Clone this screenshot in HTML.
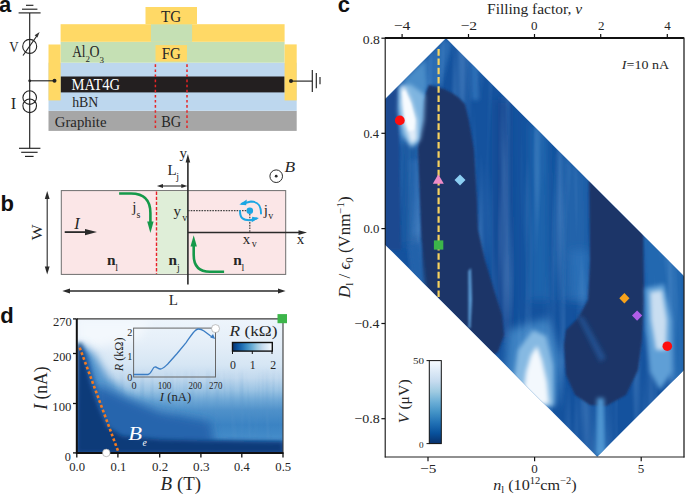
<!DOCTYPE html>
<html><head><meta charset="utf-8">
<style>
html,body{margin:0;padding:0;background:#fff;}
body{width:685px;height:495px;overflow:hidden;}
svg{display:block;}
text{font-family:"Liberation Serif",serif;fill:#222;}
.lbl{font-family:"Liberation Sans",sans-serif;font-weight:bold;fill:#111;}
</style></head><body>
<svg width="685" height="495" viewBox="0 0 685 495">
<!-- ============ PANEL A ============ -->
<g id="pa">
<rect x="48.5" y="110.8" width="248.2" height="20.1" fill="#a6a6a6"/>
<rect x="48.5" y="62.7" width="248.2" height="48.1" fill="#bdd7ee"/>
<rect x="60.6" y="41.8" width="224" height="20.9" fill="#c5e0b4"/>
<rect x="60.6" y="24.2" width="224" height="17.6" fill="#ffd966"/>
<rect x="150.9" y="24.2" width="41.2" height="17.6" fill="#c5e0b4"/>
<rect x="145.5" y="7" width="51.5" height="17.2" fill="#ffd966"/>
<rect x="155.5" y="45.1" width="31.5" height="16.5" fill="#ffd966"/>
<rect x="60.6" y="76.5" width="224" height="15.9" fill="#231f20"/>
<rect x="48.5" y="44.5" width="12.1" height="55.9" fill="#ffd966"/>
<rect x="284.6" y="44.4" width="12.1" height="56" fill="#ffd966"/>
<line x1="155.4" y1="62.7" x2="155.4" y2="129" stroke="#e42526" stroke-width="1.5" stroke-dasharray="2.6,2.5" stroke-dashoffset="-1.6"/>
<line x1="187" y1="62.7" x2="187" y2="129" stroke="#e42526" stroke-width="1.5" stroke-dasharray="2.6,2.5" stroke-dashoffset="-1.6"/>







<!-- circuit -->
<g stroke="#222" stroke-width="1.15" fill="none">
<line x1="29.7" y1="12.9" x2="29.7" y2="148.3"/>
<line x1="26" y1="5.3" x2="33.4" y2="5.3"/>
<line x1="22" y1="9.2" x2="37.4" y2="9.2"/>
<line x1="18.6" y1="12.9" x2="40.6" y2="12.9"/>
<line x1="19" y1="148.3" x2="40.4" y2="148.3"/>
<line x1="21.2" y1="152.3" x2="37.6" y2="152.3"/>
<line x1="25" y1="156.4" x2="33.6" y2="156.4"/>
<circle cx="29.7" cy="46.4" r="7" stroke-width="1.1"/>
<line x1="23" y1="55.5" x2="37.5" y2="35"/>
<circle cx="29.7" cy="97.6" r="6.8" stroke-width="1.1"/>
<circle cx="29.7" cy="105.8" r="6.8" stroke-width="1.1"/>
<line x1="29.7" y1="80.8" x2="54.5" y2="80.8"/>
<line x1="291" y1="81.1" x2="312.3" y2="81.1"/>
<line x1="312.3" y1="70" x2="312.3" y2="92"/>
<line x1="316.3" y1="73" x2="316.3" y2="88.2"/>
<line x1="320" y1="77" x2="320" y2="84.3"/>
</g>
<path d="M39.6,32 L34.6,35.2 L37.4,37.6 Z" fill="#333"/>
<circle cx="29.7" cy="80.8" r="1.4" fill="#222"/>
<circle cx="54.5" cy="80.8" r="2" fill="#222"/>
<circle cx="291" cy="81.1" r="2" fill="#222"/>



</g>

<!-- ============ PANEL B ============ -->
<g id="pb">

<rect x="61.3" y="190.6" width="224.4" height="83.8" fill="#fbe6e7" stroke="#6e6e6e" stroke-width="1"/>
<rect x="156.9" y="191.1" width="31" height="82.8" fill="#dfeed8"/>
<line x1="156.5" y1="191.6" x2="156.5" y2="274" stroke="#e8202a" stroke-width="1.4" stroke-dasharray="3.3,1.8"/>
<g stroke="#2a2a2a" fill="none">
<line x1="187.9" y1="160" x2="187.9" y2="284.6" stroke-width="1.6"/>
<line x1="187.9" y1="232.6" x2="300" y2="232.6" stroke-width="1.5"/>
<line x1="47.2" y1="197" x2="47.2" y2="268.5" stroke-width="1.1"/>
<line x1="68" y1="291" x2="279.5" y2="291" stroke-width="1.3"/>
<line x1="162" y1="186" x2="182.3" y2="186" stroke-width="1.1"/>
<line x1="64.7" y1="232.1" x2="86" y2="232.1" stroke-width="1.8"/>
</g>
<g fill="#2a2a2a">
<path d="M187.9,154 L185.6,162.5 L190.2,162.5 Z"/>
<path d="M307,232.6 L298.5,230.3 L298.5,234.9 Z"/>
<path d="M47.2,191 L44.8,199 L49.6,199 Z"/>
<path d="M47.2,274.5 L44.8,266.5 L49.6,266.5 Z"/>
<path d="M62.3,291 L70,288.6 L70,293.4 Z"/>
<path d="M285.6,291 L278,288.6 L278,293.4 Z"/>
<path d="M156.9,186 L163,184 L163,188 Z"/>
<path d="M187.4,186 L181.3,184 L181.3,188 Z"/>
<path d="M97,232.1 L85,228.9 L85,235.3 Z"/>
</g>
<!-- dotted guides -->
<line x1="188" y1="210.7" x2="247" y2="210.7" stroke="#444" stroke-width="1.2" stroke-dasharray="1.6,1.1"/>
<line x1="249.8" y1="214" x2="249.8" y2="232.5" stroke="#444" stroke-width="1.2" stroke-dasharray="1.6,1.1"/>
<!-- green arrows -->
<g stroke="#15994a" stroke-width="2.6" fill="none">
<path d="M119.1,193.5 L131,193.5 Q150.4,193.5 150.4,213 L150.4,223"/>
<path d="M224.1,271.7 L210,271.7 Q193.7,271.7 193.7,255 L193.7,245"/>
</g>
<g fill="#15994a">
<path d="M150.4,233 L147.2,221.5 L153.6,221.5 Z"/>
<path d="M193.7,235.3 L190.5,246.5 L196.9,246.5 Z"/>
</g>
<!-- vortex -->
<circle cx="249.8" cy="210.7" r="3.3" fill="#1ba6e3"/>
<g stroke="#1ba6e3" stroke-width="2" fill="none" stroke-linecap="round">
<path d="M261,213.5 C261,205 258,201.6 251,201.6 L242,203.8"/>
<path d="M240,211 C240,218 243,220.4 250,220.3 L256.5,218.6"/>
</g>
<g fill="#1ba6e3">
<path d="M239.3,204.6 L246.8,199.6 L246.2,205.2 Z"/>
<path d="M259,217.9 L251.6,222.2 L252.2,216.8 Z"/>
</g>
<!-- B symbol -->
<circle cx="276.2" cy="176.2" r="6.3" fill="none" stroke="#2a2a2a" stroke-width="1"/>
<circle cx="276.2" cy="176.2" r="1.4" fill="#2a2a2a"/>
<!-- labels -->














</g>

<!-- ============ PANEL D ============ -->
<g id="pd">

<defs>
<linearGradient id="dg1" x1="0" y1="319" x2="0" y2="453" gradientUnits="userSpaceOnUse">
<stop offset="0" stop-color="#eef5fc"/>
<stop offset="0.19" stop-color="#e4eef8"/>
<stop offset="0.34" stop-color="#d6e6f4"/>
<stop offset="0.44" stop-color="#c2d9ee"/>
<stop offset="0.53" stop-color="#9cc4e4"/>
<stop offset="0.6" stop-color="#72aad7"/>
<stop offset="0.68" stop-color="#4f91ca"/>
<stop offset="0.79" stop-color="#3b83c3"/>
<stop offset="0.86" stop-color="#4189c7"/>
<stop offset="0.9" stop-color="#4a90cc"/>
<stop offset="0.93" stop-color="#2a68ab"/>
<stop offset="0.95" stop-color="#144a8a"/>
<stop offset="1" stop-color="#0e3d78"/>
</linearGradient>
<clipPath id="dclip"><rect x="77" y="319" width="206" height="134"/></clipPath>
<linearGradient id="dmg" x1="0" y1="340" x2="0" y2="453" gradientUnits="userSpaceOnUse"><stop offset="0" stop-color="#000"/><stop offset="0.25" stop-color="#000"/><stop offset="0.45" stop-color="#fff"/><stop offset="0.85" stop-color="#fff"/><stop offset="1" stop-color="#000"/></linearGradient>
<mask id="dmask" maskUnits="userSpaceOnUse" x="77" y="319" width="206" height="134"><rect x="77" y="340" width="206" height="113" fill="url(#dmg)"/></mask>
<filter id="streak2" x="0" y="0" width="100%" height="100%"><feTurbulence type="fractalNoise" baseFrequency="0.2 0.01" numOctaves="2" seed="3"/><feColorMatrix type="matrix" values="0 0 0 0 0.1  0 0 0 0 0.3  0 0 0 0 0.6  0 0 0 1.8 -0.8"/></filter>
<filter id="blur1" x="-20%" y="-20%" width="140%" height="140%"><feGaussianBlur stdDeviation="2"/></filter>
<filter id="blur3" x="-20%" y="-20%" width="140%" height="140%"><feGaussianBlur stdDeviation="4"/></filter>
</defs>
<g clip-path="url(#dclip)">
<rect x="77" y="319" width="206" height="134" fill="url(#dg1)"/>
<path d="M77,319 L150,319 L140,338 L100,346 L77,346 Z" fill="#f3f8fd" filter="url(#blur3)"/>
<path d="M80,343 L95,355 L108,378 L130,398 L170,408 L175,453 L77,453 Z" fill="#5595cd" filter="url(#blur3)"/>
<g mask="url(#dmask)"><rect x="77" y="340" width="206" height="113" filter="url(#streak2)" opacity="0.35"/></g>
<path d="M81,343 L88,355 L96,383 L108,408 L122,428 L145,439 L283,441 L283,453 L77,453 Z" fill="#2566ad" filter="url(#blur1)"/>
<path d="M97,385 L125,398 L160,412 L210,422 L215,446 L97,446 Z" fill="#2865ad" filter="url(#blur3)"/>
<path d="M77.5,343 L81,343 L84.5,359 L90.6,383.5 L99,408 L107.6,427 L122,436 L160,439.5 L220,441 L283,442 L283,453 L77,453 Z" fill="#0c3a79" filter="url(#blur1)"/>
</g>
<!-- spines -->
<line x1="77" y1="318.9" x2="283" y2="318.9" stroke="#3a3a3a" stroke-width="1.1"/>
<line x1="283" y1="318.9" x2="283" y2="453" stroke="#3a3a3a" stroke-width="1.1"/>
<line x1="76.8" y1="318.4" x2="76.8" y2="454" stroke="#111" stroke-width="2"/>
<line x1="76" y1="452.9" x2="283.5" y2="452.9" stroke="#111" stroke-width="2"/>
<g stroke="#111" stroke-width="1.3">
<line x1="73" y1="318.9" x2="76" y2="318.9"/>
<line x1="73" y1="353.5" x2="76" y2="353.5"/>
<line x1="73" y1="403.5" x2="76" y2="403.5"/>
<line x1="73" y1="452.9" x2="76" y2="452.9"/>
<line x1="76.8" y1="453" x2="76.8" y2="457.5"/>
<line x1="117.9" y1="453" x2="117.9" y2="457.5"/>
<line x1="159.7" y1="453" x2="159.7" y2="457.5"/>
<line x1="200.9" y1="453" x2="200.9" y2="457.5"/>
<line x1="241.8" y1="453" x2="241.8" y2="457.5"/>
<line x1="283" y1="453" x2="283" y2="457.5"/>
</g>




<!-- orange dotted line -->
<line x1="79.7" y1="347.6" x2="118.4" y2="452" stroke="#f47a20" stroke-width="2.6" stroke-dasharray="2.8,2.3"/>
<circle cx="106.3" cy="452.9" r="3.8" fill="#fff" stroke="#999" stroke-width="0.6"/>
<rect x="277.5" y="314.1" width="9.5" height="9.1" fill="#3cb54a"/>

<!-- inset -->
<rect x="133.6" y="328.1" width="81.9" height="48.9" fill="none" stroke="#666" stroke-width="1"/>
<path d="M134,374.5 L148,374.5 C150,374.5 151,372 152.5,369.5 C153.5,367.5 154.5,366.8 155.5,367 C157,367.3 158.5,369 160.5,369 C163,369 165,366.5 168,363.8 L177.1,353.5 L186.3,342.3 C189,338.5 191,335.5 193,333 C195,330.5 196.5,329 198.5,329 C200.5,329 202,329.6 204,331 L210,335.5 L212.5,337.2" fill="none" stroke="#3b7dc4" stroke-width="1.3"/>
<path d="M215.2,339 L210.2,337.6 L213,334 Z" fill="#3b7dc4"/>
<circle cx="215.5" cy="328.6" r="4" fill="#fff" stroke="#999" stroke-width="0.6"/>




<!-- colorbar R -->
<defs><linearGradient id="rcb" x1="0" y1="0" x2="1" y2="0">
<stop offset="0" stop-color="#08306b"/><stop offset="0.125" stop-color="#08519c"/><stop offset="0.25" stop-color="#2171b5"/><stop offset="0.375" stop-color="#4292c6"/><stop offset="0.5" stop-color="#6baed6"/><stop offset="0.625" stop-color="#9ecae1"/><stop offset="0.75" stop-color="#c6dbef"/><stop offset="0.875" stop-color="#deebf7"/><stop offset="1" stop-color="#f7fbff"/>
</linearGradient></defs>
<rect x="232.5" y="342.5" width="39.8" height="8.6" fill="url(#rcb)" stroke="#111" stroke-width="1.4"/>
<g stroke="#111" stroke-width="1"><line x1="232.5" y1="351" x2="232.5" y2="354"/><line x1="252.3" y1="351" x2="252.3" y2="354"/><line x1="272" y1="351" x2="272" y2="354"/></g>


</g>

<!-- ============ PANEL C ============ -->
<g id="pc">

<defs>
<clipPath id="cclip"><polygon points="385,99.2 446,38.2 684,276.2 684,369.9 597.2,456.7 385,244.5"/></clipPath>
<filter id="b2" x="-50%" y="-50%" width="200%" height="200%"><feGaussianBlur stdDeviation="2"/></filter>
<filter id="b1" x="-50%" y="-50%" width="200%" height="200%"><feGaussianBlur stdDeviation="1"/></filter>
<filter id="streak" x="0" y="0" width="100%" height="100%"><feTurbulence type="fractalNoise" baseFrequency="0.09 0.006" numOctaves="2" seed="7"/><feColorMatrix type="matrix" values="0 0 0 0 0.3  0 0 0 0 0.55  0 0 0 0 0.88  0 0 0 1.8 -0.8"/></filter>
<filter id="b4" x="-50%" y="-50%" width="200%" height="200%"><feGaussianBlur stdDeviation="4"/></filter>
<linearGradient id="vcb" x1="0" y1="1" x2="0" y2="0">
<stop offset="0" stop-color="#08306b"/><stop offset="0.125" stop-color="#08519c"/><stop offset="0.25" stop-color="#2171b5"/><stop offset="0.375" stop-color="#4292c6"/><stop offset="0.5" stop-color="#6baed6"/><stop offset="0.625" stop-color="#9ecae1"/><stop offset="0.75" stop-color="#c6dbef"/><stop offset="0.875" stop-color="#deebf7"/><stop offset="1" stop-color="#f7fbff"/>
</linearGradient>
</defs>
<g clip-path="url(#cclip)">
<rect x="385" y="38" width="300" height="420" fill="#14529e"/>
<!-- medium variations -->
<path d="M385,99 L446,38 L452,44 L441,85 L427,87 L422,120 L418,145 L400,145 L385,125 Z" fill="#2a6cb3" filter="url(#b2)"/>
<path d="M404,80 L425,60 L427,86 L423,100 L406,95 Z" fill="#4a8cc8" filter="url(#b2)"/>
<path d="M400,140 L419,140 L421,200 L423,245 L402,245 Z" fill="#1f5ba3" filter="url(#b4)"/>
<path d="M410,160 L419,160 L421,235 L412,235 Z" fill="#2866ae" filter="url(#b2)"/>
<path d="M530,120 L548,135 L550,300 L530,300 Z" fill="#1f63ac" filter="url(#b4)"/>
<path d="M560,150 L588,175 L590,300 L562,300 Z" fill="#2063ab" filter="url(#b4)"/>
<path d="M495,100 L510,100 L512,340 L495,340 Z" fill="#134a93" filter="url(#b4)"/>
<path d="M570,250 L588,250 L589,300 L572,300 Z" fill="#2c6fb7" filter="url(#b4)"/>
<path d="M470,55 L478,62 L479,100 L472,100 Z" fill="#2e70b7" filter="url(#b2)"/>
<path d="M644,230 L684,270 L684,380 L670,380 L646,330 Z" fill="#2467b0" filter="url(#b2)"/>
<path d="M508,330 L548,318 L562,360 L556,405 L520,405 L505,370 Z" fill="#3d82c3" filter="url(#b4)"/>
<rect x="385" y="38" width="300" height="420" filter="url(#streak)" opacity="0.32"/>
<!-- dark regions -->
<path d="M385,99 L398,86 L401,250 L385,250 Z" fill="#1c4a90" filter="url(#b1)"/>
<path d="M429,85 L436,87 L444,89 L452,93 L458,97 L465,104 L469,121 L474,150 L477,200 L478,230 L485,260 L494,290 L502,315 L504,335 L498,352 L470,370 L430,330 L421,300 L422,250 L420,200 L418,150 L421,121 L423,101 Z" fill="#1e3468" filter="url(#b1)"/>
<path d="M589,170 L643,225 L644,300 L642,340 L638,370 L626,395 L606,406 L590,405 L575,395 L566,375 L564,345 L566,330 L578,318 L588,300 L590,260 Z" fill="#1e3468" filter="url(#b1)"/>
<path d="M576,314 L584,318 L606,358 L600,362 Z" fill="#22508f" filter="url(#b2)"/>
<!-- light streaks -->
<path d="M408,246 L420,242 L426,292 L414,284 Z" fill="#2262aa" filter="url(#b2)"/>
<path d="M468.3,271 L471,268 L472,300 L470.5,328 L468.5,328 Z" fill="#5a9ad3" filter="url(#b1)"/>
<path d="M399,88 L410,84 L425,95 L424,120 L420,140 L412,148 L402,135 L398,110 Z" fill="#7fb5e0" filter="url(#b2)"/>
<path d="M401,87 L404,85 L411,100 L417,120 L417,140 L411,144 L404,124 L401,104 Z" fill="#e2eef9" filter="url(#b2)"/>
<path d="M402.5,92 L405,90 L411,104 L415,120 L414,130 L409,131 L405,120 Z" fill="#f7fbff" filter="url(#b1)"/>
<path d="M645,288 L664,284 L672,320 L672,372 L660,390 L650,372 L646,330 Z" fill="#5e9fd6" filter="url(#b2)"/>
<path d="M650,292 L662,290 L667,320 L666,350 L656,350 L651,320 Z" fill="#c9def1" filter="url(#b2)"/>
<path d="M518,350 L533,330 L546,336 L553,365 L554,406 L522,406 L514,378 Z" fill="#86b9e2" filter="url(#b2)"/>
<path d="M526,372 L531,355 L537,346 L542,360 L547,382 L549,404 L529,404 L524,388 Z" fill="#f3f8fd" filter="url(#b2)"/>
<path d="M597,398 L604,398 L606,456 L595,456 Z" fill="#5096d2" filter="url(#b2)"/>
</g>
<!-- yellow dashed -->
<line x1="438.6" y1="49.1" x2="438.6" y2="298" stroke="#f6d25f" stroke-width="2.2" stroke-dasharray="6.6,2.68"/>
<!-- markers -->
<circle cx="399.8" cy="120.4" r="4.9" fill="#fe0d0d"/>
<circle cx="667.3" cy="346.2" r="4.8" fill="#fe0d0d"/>
<path d="M438.3,174.3 L432.8,183.8 L443.8,183.8 Z" fill="#ee8cc8"/>
<path d="M460,174.4 L465.5,179.9 L460,185.4 L454.5,179.9 Z" fill="#8ccff2"/>
<rect x="433.9" y="240.4" width="9.4" height="9.2" fill="#3cb54a"/>
<path d="M624.4,293 L629.5,298.2 L624.4,303.4 L619.3,298.2 Z" fill="#f7a21b"/>
<path d="M637.1,310.5 L642.2,315.6 L637.1,320.7 L632,315.6 Z" fill="#b05ee8"/>
<!-- colorbar V -->
<rect x="429.3" y="360.6" width="12" height="83" fill="url(#vcb)" stroke="#111" stroke-width="1"/>
<g stroke="#111" stroke-width="1"><line x1="426.5" y1="360.6" x2="429.3" y2="360.6"/><line x1="426.5" y1="443.6" x2="429.3" y2="443.6"/></g>


<!-- spines -->
<line x1="385" y1="38" x2="684" y2="38" stroke="#111" stroke-width="1.8"/>
<line x1="385.2" y1="37.5" x2="385.2" y2="457.5" stroke="#111" stroke-width="1.1"/>
<line x1="684" y1="37.5" x2="684" y2="457.5" stroke="#222" stroke-width="1.3"/>
<line x1="384.8" y1="457" x2="684.5" y2="457" stroke="#222" stroke-width="1.2"/>
<g stroke="#111" stroke-width="1.2">
<line x1="402.1" y1="38" x2="402.1" y2="34"/>
<line x1="468.5" y1="38" x2="468.5" y2="34"/>
<line x1="534.5" y1="38" x2="534.5" y2="34"/>
<line x1="600.7" y1="38" x2="600.7" y2="34"/>
<line x1="667.3" y1="38" x2="667.3" y2="34"/>
<line x1="381.4" y1="38.2" x2="385" y2="38.2"/>
<line x1="381.4" y1="133.3" x2="385" y2="133.3"/>
<line x1="381.4" y1="228.6" x2="385" y2="228.6"/>
<line x1="381.4" y1="323.5" x2="385" y2="323.5"/>
<line x1="381.4" y1="418.7" x2="385" y2="418.7"/>
<line x1="428" y1="457" x2="428" y2="461.2"/>
<line x1="534.6" y1="457" x2="534.6" y2="461.2"/>
<line x1="641.2" y1="457" x2="641.2" y2="461.2"/>
</g>






</g>
<text transform="translate(-1.04,12.08)" font-size="22.0" font-weight="bold" style="font-family:&quot;Liberation Sans&quot;,sans-serif;fill:#111">a</text>
<text transform="translate(0.42,210.75)" font-size="22.0" font-weight="bold" style="font-family:&quot;Liberation Sans&quot;,sans-serif;fill:#111">b</text>
<text transform="translate(337.74,12.48)" font-size="22.0" font-weight="bold" style="font-family:&quot;Liberation Sans&quot;,sans-serif;fill:#111">c</text>
<text transform="translate(0.21,322.95)" font-size="22.0" font-weight="bold" style="font-family:&quot;Liberation Sans&quot;,sans-serif;fill:#111">d</text>
<text transform="translate(160.9,21.66) scale(0.93,1)" font-size="16.3" style="font-family:&quot;Liberation Serif&quot;,serif;fill:#262626">TG</text>
<text transform="translate(161.75,59.26) scale(0.919,1)" font-size="16.3" style="font-family:&quot;Liberation Serif&quot;,serif;fill:#262626">FG</text>
<text transform="translate(161.17,126.66) scale(0.886,1)" font-size="16.3" style="font-family:&quot;Liberation Serif&quot;,serif;fill:#262626">BG</text>
<text transform="translate(72.17,57.45) scale(0.816,1)" font-size="16.3" style="font-family:&quot;Liberation Serif&quot;,serif;fill:#262626">Al</text>
<text transform="translate(85.5,62.34)" font-size="9.0" style="font-family:&quot;Liberation Serif&quot;,serif;fill:#262626">2</text>
<text transform="translate(89.54,57.06) scale(0.853,1)" font-size="16.3" style="font-family:&quot;Liberation Serif&quot;,serif;fill:#262626">O</text>
<text transform="translate(99.61,62.94)" font-size="9.0" style="font-family:&quot;Liberation Serif&quot;,serif;fill:#262626">3</text>
<text transform="translate(71.46,89.66) scale(0.897,1)" font-size="16.3" style="font-family:&quot;Liberation Serif&quot;,serif;fill:#fff">MAT4G</text>
<text transform="translate(72.16,107.03) scale(0.906,1)" font-size="15.3" style="font-family:&quot;Liberation Serif&quot;,serif;fill:#262626">hBN</text>
<text transform="translate(54.71,126.73) scale(0.968,1)" font-size="15.3" style="font-family:&quot;Liberation Serif&quot;,serif;fill:#262626">Graphite</text>
<text transform="translate(9.27,51.67) scale(0.848,1)" font-size="15.34" style="font-family:&quot;Liberation Serif&quot;,serif;fill:#262626">V</text>
<text transform="translate(10.69,108.7)" font-size="16.46" style="font-family:&quot;Liberation Serif&quot;,serif;fill:#262626">I</text>
<text transform="translate(42.15,240.2) rotate(-90) scale(1.121,1)" font-size="15.0" style="font-family:&quot;Liberation Serif&quot;,serif;fill:#262626">W</text>
<text transform="translate(74.3,228.9)" font-size="16.15" font-style="italic" style="font-family:&quot;Liberation Serif&quot;,serif;fill:#262626">I</text>
<text transform="translate(179.46,157.6)" font-size="15.0" style="font-family:&quot;Liberation Serif&quot;,serif;fill:#262626">y</text>
<text transform="translate(167.6,174.95)" font-size="15.0" style="font-family:&quot;Liberation Serif&quot;,serif;fill:#262626">L</text>
<text transform="translate(176.2,180.3)" font-size="10.0" style="font-family:&quot;Liberation Serif&quot;,serif;fill:#262626">j</text>
<text transform="translate(132.3,212.2)" font-size="15.0" style="font-family:&quot;Liberation Serif&quot;,serif;fill:#262626">j</text>
<text transform="translate(136.58,218.4)" font-size="10.0" style="font-family:&quot;Liberation Serif&quot;,serif;fill:#262626">s</text>
<text transform="translate(173.61,215.8)" font-size="15.0" style="font-family:&quot;Liberation Serif&quot;,serif;fill:#262626">y</text>
<text transform="translate(182.2,221.05)" font-size="10.0" style="font-family:&quot;Liberation Serif&quot;,serif;fill:#262626">v</text>
<text transform="translate(263.65,215.4)" font-size="15.0" style="font-family:&quot;Liberation Serif&quot;,serif;fill:#262626">j</text>
<text transform="translate(268.2,219.15)" font-size="10.0" style="font-family:&quot;Liberation Serif&quot;,serif;fill:#262626">v</text>
<text transform="translate(242.7,243.62)" font-size="15.0" style="font-family:&quot;Liberation Serif&quot;,serif;fill:#262626">x</text>
<text transform="translate(251.85,247.45)" font-size="10.0" style="font-family:&quot;Liberation Serif&quot;,serif;fill:#262626">v</text>
<text transform="translate(296.85,243.62)" font-size="15.0" style="font-family:&quot;Liberation Serif&quot;,serif;fill:#262626">x</text>
<text transform="translate(168.7,304.85)" font-size="15.0" style="font-family:&quot;Liberation Serif&quot;,serif;fill:#262626">L</text>
<text transform="translate(106.93,265.29)" font-size="15.3" font-weight="bold" style="font-family:&quot;Liberation Serif&quot;,serif;fill:#262626">n</text>
<text transform="translate(115.25,270.8)" font-size="10.0" style="font-family:&quot;Liberation Serif&quot;,serif;fill:#262626">l</text>
<text transform="translate(168.43,265.29)" font-size="15.3" font-weight="bold" style="font-family:&quot;Liberation Serif&quot;,serif;fill:#262626">n</text>
<text transform="translate(176.9,270.7)" font-size="10.0" style="font-family:&quot;Liberation Serif&quot;,serif;fill:#262626">j</text>
<text transform="translate(233.33,265.29)" font-size="15.3" font-weight="bold" style="font-family:&quot;Liberation Serif&quot;,serif;fill:#262626">n</text>
<text transform="translate(241.5,270.5)" font-size="10.0" style="font-family:&quot;Liberation Serif&quot;,serif;fill:#262626">l</text>
<text transform="translate(284.43,171.82) scale(1.161,1)" font-size="15.0" font-style="italic" style="font-family:&quot;Liberation Serif&quot;,serif;fill:#262626">B</text>
<text transform="translate(53.03,325.71) scale(1.031,1)" font-size="12.2" style="font-family:&quot;Liberation Serif&quot;,serif;fill:#262626">270</text>
<text transform="translate(53.05,361.11) scale(1.002,1)" font-size="12.2" style="font-family:&quot;Liberation Serif&quot;,serif;fill:#262626">200</text>
<text transform="translate(52.36,410.81) scale(1.041,1)" font-size="12.2" style="font-family:&quot;Liberation Serif&quot;,serif;fill:#262626">100</text>
<text transform="translate(64.85,460.61)" font-size="12.2" style="font-family:&quot;Liberation Serif&quot;,serif;fill:#262626">0</text>
<text transform="translate(69.29,471.41)" font-size="12.65" style="font-family:&quot;Liberation Serif&quot;,serif;fill:#262626">0.0</text>
<text transform="translate(110.6,471.41) scale(0.997,1)" font-size="12.65" style="font-family:&quot;Liberation Serif&quot;,serif;fill:#262626">0.1</text>
<text transform="translate(151.98,471.41) scale(1.02,1)" font-size="12.65" style="font-family:&quot;Liberation Serif&quot;,serif;fill:#262626">0.2</text>
<text transform="translate(193.07,471.41) scale(1.041,1)" font-size="12.65" style="font-family:&quot;Liberation Serif&quot;,serif;fill:#262626">0.3</text>
<text transform="translate(234.1,471.41) scale(0.986,1)" font-size="12.65" style="font-family:&quot;Liberation Serif&quot;,serif;fill:#262626">0.4</text>
<text transform="translate(275.29,471.41) scale(1.007,1)" font-size="12.65" style="font-family:&quot;Liberation Serif&quot;,serif;fill:#262626">0.5</text>
<text transform="translate(160.61,490.04) scale(1.033,1)" font-size="18.3" style="font-family:&quot;Liberation Serif&quot;,serif;fill:#262626"><tspan font-style="italic">B</tspan> (T)</text>
<text transform="translate(46.54,409.81) rotate(-90) scale(0.958,1)" font-size="18.3" style="font-family:&quot;Liberation Serif&quot;,serif;fill:#262626"><tspan font-style="italic">I</tspan> (nA)</text>
<text transform="translate(128.29,440.4) scale(1.2,1)" font-size="18.78" font-style="italic" style="font-family:&quot;Liberation Serif&quot;,serif;fill:#fff">B</text>
<text transform="translate(142.54,446.1)" font-size="9.58" font-style="italic" style="font-family:&quot;Liberation Serif&quot;,serif;fill:#fff">e</text>
<text transform="translate(127.35,336.03)" font-size="10.2" style="font-family:&quot;Liberation Serif&quot;,serif;fill:#262626">2</text>
<text transform="translate(127.35,359.58)" font-size="10.2" style="font-family:&quot;Liberation Serif&quot;,serif;fill:#262626">1</text>
<text transform="translate(127.3,381.48)" font-size="10.2" style="font-family:&quot;Liberation Serif&quot;,serif;fill:#262626">0</text>
<text transform="translate(131.5,389.28)" font-size="10.2" style="font-family:&quot;Liberation Serif&quot;,serif;fill:#262626">0</text>
<text transform="translate(157.68,389.28) scale(0.895,1)" font-size="10.2" style="font-family:&quot;Liberation Serif&quot;,serif;fill:#262626">100</text>
<text transform="translate(188.6,389.28) scale(0.866,1)" font-size="10.2" style="font-family:&quot;Liberation Serif&quot;,serif;fill:#262626">200</text>
<text transform="translate(209.1,389.28) scale(0.866,1)" font-size="10.2" style="font-family:&quot;Liberation Serif&quot;,serif;fill:#262626">270</text>
<text transform="translate(159.76,400.5) scale(1.018,1)" font-size="12.5" style="font-family:&quot;Liberation Serif&quot;,serif;fill:#262626"><tspan font-style="italic">I</tspan> (nA)</text>
<text transform="translate(122.98,371.24) rotate(-90) scale(0.997,1)" font-size="12.2" style="font-family:&quot;Liberation Serif&quot;,serif;fill:#262626"><tspan font-style="italic">R</tspan> (kΩ)</text>
<text transform="translate(229.49,336.42) scale(1.132,1)" font-size="15.3" style="font-family:&quot;Liberation Serif&quot;,serif;fill:#262626"><tspan font-style="italic">R</tspan> (kΩ)</text>
<text transform="translate(230.1,368.95)" font-size="11.8" style="font-family:&quot;Liberation Serif&quot;,serif;fill:#262626">0</text>
<text transform="translate(249.77,368.83)" font-size="11.8" style="font-family:&quot;Liberation Serif&quot;,serif;fill:#262626">1</text>
<text transform="translate(270.16,368.89)" font-size="11.8" style="font-family:&quot;Liberation Serif&quot;,serif;fill:#262626">2</text>
<text transform="translate(362.85,43.64) scale(1.052,1)" font-size="13.0" style="font-family:&quot;Liberation Serif&quot;,serif;fill:#262626">0.8</text>
<text transform="translate(363.4,137.75) scale(0.959,1)" font-size="13.0" style="font-family:&quot;Liberation Serif&quot;,serif;fill:#262626">0.4</text>
<text transform="translate(363.39,232.95) scale(0.98,1)" font-size="13.0" style="font-family:&quot;Liberation Serif&quot;,serif;fill:#262626">0.0</text>
<text transform="translate(354.31,327.75) scale(1.064,1)" font-size="13.0" style="font-family:&quot;Liberation Serif&quot;,serif;fill:#262626">−0.4</text>
<text transform="translate(354.3,422.94) scale(1.079,1)" font-size="13.0" style="font-family:&quot;Liberation Serif&quot;,serif;fill:#262626">−0.8</text>
<text transform="translate(393.72,30.12) scale(1.2,1)" font-size="13.0" style="font-family:&quot;Liberation Serif&quot;,serif;fill:#262626">−4</text>
<text transform="translate(460.48,30.18) scale(1.2,1)" font-size="13.0" style="font-family:&quot;Liberation Serif&quot;,serif;fill:#262626">−2</text>
<text transform="translate(531.1,30.25)" font-size="13.0" style="font-family:&quot;Liberation Serif&quot;,serif;fill:#262626">0</text>
<text transform="translate(597.91,30.18)" font-size="13.0" style="font-family:&quot;Liberation Serif&quot;,serif;fill:#262626">2</text>
<text transform="translate(664.17,30.12)" font-size="13.0" style="font-family:&quot;Liberation Serif&quot;,serif;fill:#262626">4</text>
<text transform="translate(420.04,473.01) scale(1.176,1)" font-size="13.0" style="font-family:&quot;Liberation Serif&quot;,serif;fill:#262626">−5</text>
<text transform="translate(531.25,473.14)" font-size="13.0" style="font-family:&quot;Liberation Serif&quot;,serif;fill:#262626">0</text>
<text transform="translate(637.82,473.01)" font-size="13.0" style="font-family:&quot;Liberation Serif&quot;,serif;fill:#262626">5</text>
<text transform="translate(487.04,14.27) scale(1.005,1)" font-size="15.38" style="font-family:&quot;Liberation Serif&quot;,serif;fill:#262626">Filling factor, <tspan font-style="italic">ν</tspan></text>
<text transform="translate(621.87,68.87) scale(1.052,1)" font-size="13.33" style="font-family:&quot;Liberation Serif&quot;,serif;fill:#262626"><tspan font-style="italic">I</tspan>=10 nA</text>
<text transform="translate(413.07,364.12) scale(1.2,1)" font-size="9.2" style="font-family:&quot;Liberation Serif&quot;,serif;fill:#262626">50</text>
<text transform="translate(419.1,447.82)" font-size="9.2" style="font-family:&quot;Liberation Serif&quot;,serif;fill:#262626">0</text>
<text transform="translate(409.2,423.17) rotate(-90) scale(1.05,1)" font-size="15.0" style="font-family:&quot;Liberation Serif&quot;,serif;fill:#262626"><tspan font-style="italic">V</tspan> (μV)</text>
<text transform="translate(493.13,490.1) scale(1.117,1)" font-size="14.5" style="font-family:&quot;Liberation Serif&quot;,serif;fill:#262626"><tspan font-style="italic">n</tspan><tspan font-size="65%" dy="0.3em">l</tspan><tspan dy="-0.195em"> (10</tspan><tspan font-size="65%" dy="-0.6em">12</tspan><tspan dy="0.39em">cm</tspan><tspan font-size="65%" dy="-0.6em">−2</tspan><tspan dy="0.39em">)</tspan></text>
<text transform="translate(349.8,297.93) rotate(-90) scale(1.056,1)" font-size="16.0" style="font-family:&quot;Liberation Serif&quot;,serif;fill:#262626"><tspan font-style="italic">D</tspan><tspan font-size="65%" dy="0.3em">l</tspan><tspan dy="-0.195em"> / </tspan><tspan font-style="italic">ϵ</tspan><tspan font-size="65%" dy="0.3em">0</tspan><tspan dy="-0.195em"> (Vnm</tspan><tspan font-size="65%" dy="-0.6em">−1</tspan><tspan dy="0.39em">)</tspan></text>
</svg>
</body></html>
